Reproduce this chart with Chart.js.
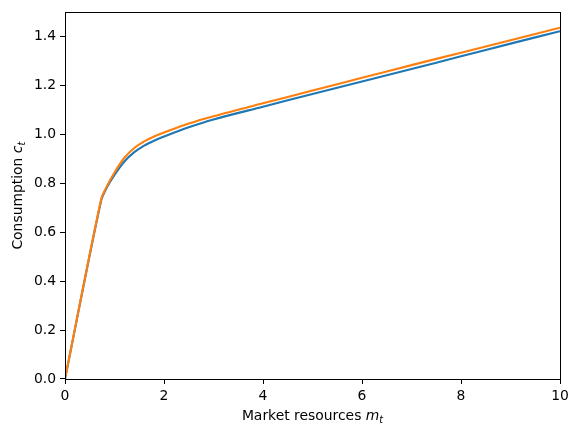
<!DOCTYPE html>
<html>
<head>
<meta charset="utf-8">
<script src="https://cdn.jsdelivr.net/npm/chart.js@4"></script>
<style>
  html, body { margin: 0; padding: 0; background: #fff; }
  #wrap { width: 580px; height: 436px; }
</style>
</head>
<body>
<div id="wrap"><canvas id="c" width="580" height="436"></canvas></div>
<script>
// market resources grid
const mValues = [0, 0.73, 0.85, 1.0, 1.2, 1.4, 1.6, 1.8, 2.0, 2.5, 3.0, 4.0, 5.0, 6.0, 7.0, 8.0, 9.0, 10.0];
// consumption functions
const blueC   = [0, 0.73, 0.785, 0.835, 0.89, 0.928, 0.955, 0.975, 0.992, 1.03, 1.062, 1.114, 1.166, 1.217, 1.268, 1.32, 1.372, 1.423];
const orangeC = [0, 0.735, 0.79, 0.845, 0.905, 0.945, 0.972, 0.992, 1.008, 1.045, 1.075, 1.128, 1.18, 1.232, 1.284, 1.335, 1.386, 1.437];

const xTicks = [0, 2, 4, 6, 8, 10];
const yTicks = [0, 0.2, 0.4, 0.6, 0.8, 1.0, 1.2, 1.4];

const FONT = 'DejaVu Sans';

function toPoints(xs, ys) {
    return xs.map((x, i) => ({ x: x, y: ys[i] }));
}

// frame + axis labels with math-style subscripts
const decor = {
    id: 'decor',
    afterDraw(chart) {
        const ctx = chart.ctx;
        const a = chart.chartArea;
        ctx.save();
        ctx.strokeStyle = '#000';
        ctx.lineWidth = 1;
        ctx.strokeRect(Math.round(a.left) + 0.5, Math.round(a.top) + 0.5,
            Math.round(a.right - a.left), Math.round(a.bottom - a.top));

        function label(parts, cx, cy) {
            let w = 0;
            parts.forEach(p => { ctx.font = p.font; w += ctx.measureText(p.text).width; });
            let x = cx - w / 2;
            ctx.textBaseline = 'alphabetic';
            ctx.textAlign = 'left';
            ctx.fillStyle = '#000';
            parts.forEach(p => {
                ctx.font = p.font;
                ctx.fillText(p.text, x, cy + (p.dy || 0));
                x += ctx.measureText(p.text).width;
            });
        }
        const base = '13.9px "' + FONT + '"';
        const ital = 'italic 13.9px "' + FONT + '"';
        const sub = 'italic 9.7px "' + FONT + '"';

        const cx = (a.left + a.right) / 2;
        label([
            { text: 'Market resources ', font: base },
            { text: 'm', font: ital },
            { text: 't', font: sub, dy: 2.5 }
        ], cx, 420);

        ctx.translate(22, (a.top + a.bottom) / 2);
        ctx.rotate(-Math.PI / 2);
        label([
            { text: 'Consumption ', font: base },
            { text: 'c', font: ital },
            { text: 't', font: sub, dy: 2.5 }
        ], 0, 0);
        ctx.restore();
    }
};

new Chart(document.getElementById('c'), {
    type: 'scatter',
    data: {
        datasets: [
            {
                data: toPoints(mValues, blueC),
                showLine: true,
                borderColor: '#1f77b4',
                borderWidth: 2.1,
                pointRadius: 0,
                tension: 0.3,
                order: 1
            },
            {
                data: toPoints(mValues, orangeC),
                showLine: true,
                borderColor: '#ff7f0e',
                borderWidth: 2.1,
                pointRadius: 0,
                tension: 0.3,
                order: 0
            }
        ]
    },
    options: {
        responsive: false,
        animation: false,
        events: [],
        layout: { padding: { top: 10, right: 20, left: 0, bottom: 0 } },
        plugins: { legend: { display: false }, tooltip: { enabled: false } },
        scales: {
            x: {
                type: 'linear',
                min: 0, max: 10,
                afterBuildTicks: s => { s.ticks = xTicks.map(v => ({ value: v })); },
                afterFit: s => { s.height = 57; },
                grid: { drawOnChartArea: false, drawTicks: true, tickLength: 5, color: '#000' },
                border: { display: false },
                ticks: {
                    color: '#000', padding: 4, maxRotation: 0,
                    font: { family: FONT, size: 13.9 },
                    callback: v => String(v)
                }
            },
            y: {
                type: 'linear',
                min: 0, max: 1.5,
                afterBuildTicks: s => { s.ticks = yTicks.map(v => ({ value: v })); },
                afterFit: s => { s.width = 65; },
                grid: { drawOnChartArea: false, drawTicks: true, tickLength: 5, color: '#000' },
                border: { display: false },
                ticks: {
                    color: '#000', padding: 4,
                    font: { family: FONT, size: 13.9 },
                    callback: v => v.toFixed(1)
                }
            }
        }
    },
    plugins: [decor]
});
</script>
</body>
</html>
